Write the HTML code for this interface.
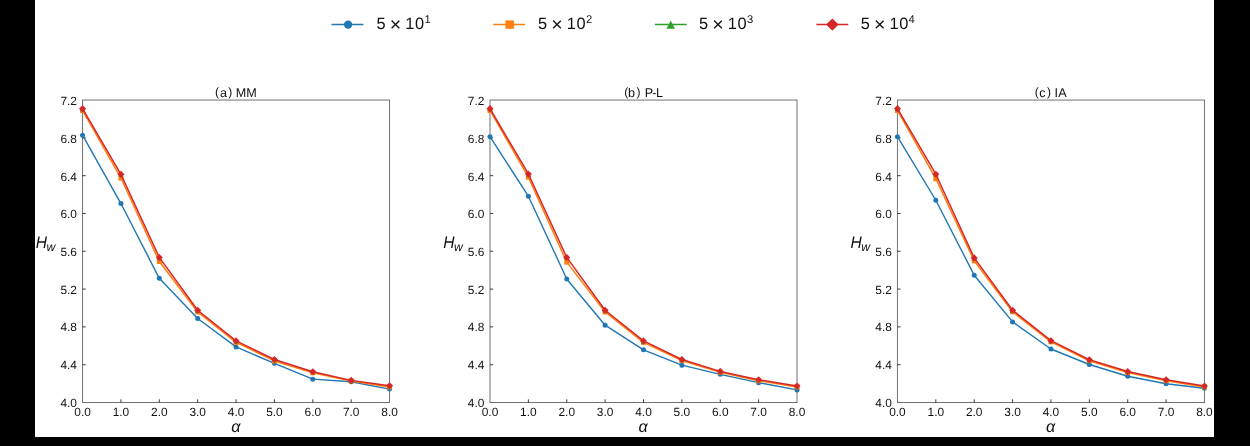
<!DOCTYPE html>
<html><head><meta charset="utf-8"><style>
html,body{margin:0;padding:0;background:#000;}
body{width:1250px;height:446px;overflow:hidden;position:relative;}
#w{position:absolute;left:35px;top:0;width:1179px;height:437px;background:#fff;}
svg{position:absolute;left:0;top:0;will-change:transform;}
text{font-family:"Liberation Sans", sans-serif;fill:#111;text-rendering:geometricPrecision;}
.t{font-size:11.9px;}
.ti{font-size:12.6px;}
.lab{font-size:16.2px;font-style:italic;}
.labH{font-size:16.8px;font-style:italic;}
.sub{font-size:12.2px;font-style:italic;}
.lg{font-size:16.4px;}
.lgx{font-size:19.6px;}
.sup{font-size:11.2px;}
</style></head><body>
<div id="w"></div>
<svg width="1250" height="446" viewBox="0 0 1250 446">
<defs><clipPath id="c"><rect x="35" y="0" width="1179" height="437"/></clipPath></defs>
<g clip-path="url(#c)">
<line x1="331.50" y1="24.45" x2="363.40" y2="24.45" stroke="#1f77b4" stroke-width="1.5"/>
<circle cx="348.10" cy="24.60" r="4.20" fill="#1f77b4"/>
<text x="376.60" y="28.9" class="lg">5</text>
<text x="389.80" y="30.8" class="lgx">&#215;</text>
<text x="405.20" y="28.9" class="lg">1</text>
<text x="415.00" y="28.9" class="lg">0</text>
<text x="424.60" y="23.1" class="sup">1</text>
<line x1="493.20" y1="24.45" x2="525.10" y2="24.45" stroke="#ff7f0e" stroke-width="1.5"/>
<rect x="505.45" y="20.40" width="8.40" height="8.40" fill="#ff7f0e"/>
<text x="538.10" y="28.9" class="lg">5</text>
<text x="551.30" y="30.8" class="lgx">&#215;</text>
<text x="566.70" y="28.9" class="lg">1</text>
<text x="576.50" y="28.9" class="lg">0</text>
<text x="586.10" y="23.1" class="sup">2</text>
<line x1="654.90" y1="24.45" x2="686.80" y2="24.45" stroke="#2ca02c" stroke-width="1.5"/>
<polygon points="670.70,20.40 674.90,28.80 666.50,28.80" fill="#2ca02c"/>
<text x="699.10" y="28.9" class="lg">5</text>
<text x="712.30" y="30.8" class="lgx">&#215;</text>
<text x="727.70" y="28.9" class="lg">1</text>
<text x="737.50" y="28.9" class="lg">0</text>
<text x="747.10" y="23.1" class="sup">3</text>
<line x1="816.40" y1="24.45" x2="848.30" y2="24.45" stroke="#d62728" stroke-width="1.5"/>
<polygon points="832.35,18.42 838.53,24.60 832.35,30.78 826.17,24.60" fill="#d62728"/>
<text x="860.80" y="28.9" class="lg">5</text>
<text x="874.00" y="30.8" class="lgx">&#215;</text>
<text x="889.40" y="28.9" class="lg">1</text>
<text x="899.20" y="28.9" class="lg">0</text>
<text x="908.40" y="23.1" class="sup">4</text>
<line x1="82.55" y1="99.77" x2="82.55" y2="402.78" stroke="#000" stroke-width="0.56"/>
<line x1="389.55" y1="99.77" x2="389.55" y2="402.78" stroke="#000" stroke-width="0.56"/>
<line x1="82.55" y1="100.05" x2="389.55" y2="100.05" stroke="#000" stroke-width="0.56"/>
<line x1="82.55" y1="402.50" x2="389.55" y2="402.50" stroke="#000" stroke-width="0.56"/>
<text x="82.55" y="415.6" text-anchor="middle" class="t">0.0</text>
<line x1="120.92" y1="402.50" x2="120.92" y2="399.30" stroke="#000" stroke-width="0.75"/>
<text x="120.92" y="415.6" text-anchor="middle" class="t">1.0</text>
<line x1="159.30" y1="402.50" x2="159.30" y2="399.30" stroke="#000" stroke-width="0.75"/>
<text x="159.30" y="415.6" text-anchor="middle" class="t">2.0</text>
<line x1="197.68" y1="402.50" x2="197.68" y2="399.30" stroke="#000" stroke-width="0.75"/>
<text x="197.68" y="415.6" text-anchor="middle" class="t">3.0</text>
<line x1="236.05" y1="402.50" x2="236.05" y2="399.30" stroke="#000" stroke-width="0.75"/>
<text x="236.05" y="415.6" text-anchor="middle" class="t">4.0</text>
<line x1="274.43" y1="402.50" x2="274.43" y2="399.30" stroke="#000" stroke-width="0.75"/>
<text x="274.43" y="415.6" text-anchor="middle" class="t">5.0</text>
<line x1="312.80" y1="402.50" x2="312.80" y2="399.30" stroke="#000" stroke-width="0.75"/>
<text x="312.80" y="415.6" text-anchor="middle" class="t">6.0</text>
<line x1="351.18" y1="402.50" x2="351.18" y2="399.30" stroke="#000" stroke-width="0.75"/>
<text x="351.18" y="415.6" text-anchor="middle" class="t">7.0</text>
<text x="389.55" y="415.6" text-anchor="middle" class="t">8.0</text>
<text x="76.95" y="406.85" text-anchor="end" class="t">4.0</text>
<line x1="82.55" y1="364.69" x2="85.75" y2="364.69" stroke="#000" stroke-width="0.75"/>
<text x="76.95" y="369.15" text-anchor="end" class="t">4.4</text>
<line x1="82.55" y1="326.89" x2="85.75" y2="326.89" stroke="#000" stroke-width="0.75"/>
<text x="76.95" y="331.45" text-anchor="end" class="t">4.8</text>
<line x1="82.55" y1="289.08" x2="85.75" y2="289.08" stroke="#000" stroke-width="0.75"/>
<text x="76.95" y="293.75" text-anchor="end" class="t">5.2</text>
<line x1="82.55" y1="251.28" x2="85.75" y2="251.28" stroke="#000" stroke-width="0.75"/>
<text x="76.95" y="256.05" text-anchor="end" class="t">5.6</text>
<line x1="82.55" y1="213.47" x2="85.75" y2="213.47" stroke="#000" stroke-width="0.75"/>
<text x="76.95" y="218.35" text-anchor="end" class="t">6.0</text>
<line x1="82.55" y1="175.66" x2="85.75" y2="175.66" stroke="#000" stroke-width="0.75"/>
<text x="76.95" y="180.65" text-anchor="end" class="t">6.4</text>
<line x1="82.55" y1="137.86" x2="85.75" y2="137.86" stroke="#000" stroke-width="0.75"/>
<text x="76.95" y="142.95" text-anchor="end" class="t">6.8</text>
<text x="76.95" y="105.25" text-anchor="end" class="t">7.2</text>
<polyline points="82.55,135.21 120.92,203.54 159.30,278.31 197.68,318.48 236.05,346.92 274.43,363.37 312.80,379.15 351.18,381.71 389.55,389.08" fill="none" stroke="#1f77b4" stroke-width="1.4" stroke-linejoin="round"/>
<circle cx="82.55" cy="135.21" r="2.50" fill="#1f77b4"/>
<circle cx="120.92" cy="203.54" r="2.50" fill="#1f77b4"/>
<circle cx="159.30" cy="278.31" r="2.50" fill="#1f77b4"/>
<circle cx="197.68" cy="318.48" r="2.50" fill="#1f77b4"/>
<circle cx="236.05" cy="346.92" r="2.50" fill="#1f77b4"/>
<circle cx="274.43" cy="363.37" r="2.50" fill="#1f77b4"/>
<circle cx="312.80" cy="379.15" r="2.50" fill="#1f77b4"/>
<circle cx="351.18" cy="381.71" r="2.50" fill="#1f77b4"/>
<circle cx="389.55" cy="389.08" r="2.50" fill="#1f77b4"/>
<polyline points="82.55,110.45 120.92,178.03 159.30,261.48 197.68,311.95 236.05,342.39 274.43,360.91 312.80,372.82 351.18,380.95 389.55,386.90" fill="none" stroke="#ff7f0e" stroke-width="1.5" stroke-linejoin="round"/>
<rect x="80.05" y="107.95" width="5.00" height="5.00" fill="#ff7f0e"/>
<rect x="118.42" y="175.53" width="5.00" height="5.00" fill="#ff7f0e"/>
<rect x="156.80" y="258.98" width="5.00" height="5.00" fill="#ff7f0e"/>
<rect x="195.18" y="309.45" width="5.00" height="5.00" fill="#ff7f0e"/>
<rect x="233.55" y="339.89" width="5.00" height="5.00" fill="#ff7f0e"/>
<rect x="271.93" y="358.41" width="5.00" height="5.00" fill="#ff7f0e"/>
<rect x="310.30" y="370.32" width="5.00" height="5.00" fill="#ff7f0e"/>
<rect x="348.68" y="378.45" width="5.00" height="5.00" fill="#ff7f0e"/>
<rect x="387.05" y="384.40" width="5.00" height="5.00" fill="#ff7f0e"/>
<polygon points="82.55,106.15 85.05,111.15 80.05,111.15" fill="#2ca02c"/>
<polygon points="120.92,171.84 123.42,176.84 118.42,176.84" fill="#2ca02c"/>
<polygon points="159.30,254.92 161.80,259.92 156.80,259.92" fill="#2ca02c"/>
<polygon points="197.68,307.75 200.18,312.75 195.18,312.75" fill="#2ca02c"/>
<polygon points="236.05,338.38 238.55,343.38 233.55,343.38" fill="#2ca02c"/>
<polygon points="274.43,357.00 276.93,362.00 271.93,362.00" fill="#2ca02c"/>
<polygon points="312.80,369.19 315.30,374.19 310.30,374.19" fill="#2ca02c"/>
<polygon points="351.18,377.88 353.68,382.88 348.68,382.88" fill="#2ca02c"/>
<polygon points="389.55,383.27 392.05,388.27 387.05,388.27" fill="#2ca02c"/>
<polyline points="82.55,108.65 120.92,174.34 159.30,257.42 197.68,310.25 236.05,340.88 274.43,359.50 312.80,371.69 351.18,380.38 389.55,385.77" fill="none" stroke="#d62728" stroke-width="1.5" stroke-linejoin="round"/>
<polygon points="82.55,105.12 86.08,108.65 82.55,112.19 79.02,108.65" fill="#d62728"/>
<polygon points="120.92,170.80 124.46,174.34 120.92,177.87 117.39,174.34" fill="#d62728"/>
<polygon points="159.30,253.88 162.84,257.42 159.30,260.95 155.77,257.42" fill="#d62728"/>
<polygon points="197.68,306.72 201.21,310.25 197.68,313.79 194.14,310.25" fill="#d62728"/>
<polygon points="236.05,337.34 239.59,340.88 236.05,344.41 232.52,340.88" fill="#d62728"/>
<polygon points="274.43,355.96 277.96,359.50 274.43,363.03 270.89,359.50" fill="#d62728"/>
<polygon points="312.80,368.15 316.34,371.69 312.80,375.22 309.26,371.69" fill="#d62728"/>
<polygon points="351.18,376.85 354.71,380.38 351.18,383.92 347.64,380.38" fill="#d62728"/>
<polygon points="389.55,382.24 393.09,385.77 389.55,389.31 386.01,385.77" fill="#d62728"/>
<text x="214.94" y="96" class="ti" style="font-size:12px">(</text>
<text x="219.90" y="96.85" class="ti">a</text>
<text x="228.17" y="96" class="ti" style="font-size:12px">)</text>
<text x="235.66" y="96.85" class="ti">M</text>
<text x="246.36" y="96.85" class="ti">M</text>
<text x="235.75" y="431.9" text-anchor="middle" class="lab">&#945;</text>
<g transform="translate(35.85,248.0) scale(0.93,1)"><text x="0" y="0" class="labH">H</text></g>
<text x="46.60" y="250.6" class="sub">w</text>
<line x1="490.00" y1="99.77" x2="490.00" y2="402.78" stroke="#000" stroke-width="0.56"/>
<line x1="797.00" y1="99.77" x2="797.00" y2="402.78" stroke="#000" stroke-width="0.56"/>
<line x1="490.00" y1="100.05" x2="797.00" y2="100.05" stroke="#000" stroke-width="0.56"/>
<line x1="490.00" y1="402.50" x2="797.00" y2="402.50" stroke="#000" stroke-width="0.56"/>
<text x="490.00" y="415.6" text-anchor="middle" class="t">0.0</text>
<line x1="528.38" y1="402.50" x2="528.38" y2="399.30" stroke="#000" stroke-width="0.75"/>
<text x="528.38" y="415.6" text-anchor="middle" class="t">1.0</text>
<line x1="566.75" y1="402.50" x2="566.75" y2="399.30" stroke="#000" stroke-width="0.75"/>
<text x="566.75" y="415.6" text-anchor="middle" class="t">2.0</text>
<line x1="605.12" y1="402.50" x2="605.12" y2="399.30" stroke="#000" stroke-width="0.75"/>
<text x="605.12" y="415.6" text-anchor="middle" class="t">3.0</text>
<line x1="643.50" y1="402.50" x2="643.50" y2="399.30" stroke="#000" stroke-width="0.75"/>
<text x="643.50" y="415.6" text-anchor="middle" class="t">4.0</text>
<line x1="681.88" y1="402.50" x2="681.88" y2="399.30" stroke="#000" stroke-width="0.75"/>
<text x="681.88" y="415.6" text-anchor="middle" class="t">5.0</text>
<line x1="720.25" y1="402.50" x2="720.25" y2="399.30" stroke="#000" stroke-width="0.75"/>
<text x="720.25" y="415.6" text-anchor="middle" class="t">6.0</text>
<line x1="758.62" y1="402.50" x2="758.62" y2="399.30" stroke="#000" stroke-width="0.75"/>
<text x="758.62" y="415.6" text-anchor="middle" class="t">7.0</text>
<text x="797.00" y="415.6" text-anchor="middle" class="t">8.0</text>
<text x="484.40" y="406.85" text-anchor="end" class="t">4.0</text>
<line x1="490.00" y1="364.69" x2="493.20" y2="364.69" stroke="#000" stroke-width="0.75"/>
<text x="484.40" y="369.15" text-anchor="end" class="t">4.4</text>
<line x1="490.00" y1="326.89" x2="493.20" y2="326.89" stroke="#000" stroke-width="0.75"/>
<text x="484.40" y="331.45" text-anchor="end" class="t">4.8</text>
<line x1="490.00" y1="289.08" x2="493.20" y2="289.08" stroke="#000" stroke-width="0.75"/>
<text x="484.40" y="293.75" text-anchor="end" class="t">5.2</text>
<line x1="490.00" y1="251.28" x2="493.20" y2="251.28" stroke="#000" stroke-width="0.75"/>
<text x="484.40" y="256.05" text-anchor="end" class="t">5.6</text>
<line x1="490.00" y1="213.47" x2="493.20" y2="213.47" stroke="#000" stroke-width="0.75"/>
<text x="484.40" y="218.35" text-anchor="end" class="t">6.0</text>
<line x1="490.00" y1="175.66" x2="493.20" y2="175.66" stroke="#000" stroke-width="0.75"/>
<text x="484.40" y="180.65" text-anchor="end" class="t">6.4</text>
<line x1="490.00" y1="137.86" x2="493.20" y2="137.86" stroke="#000" stroke-width="0.75"/>
<text x="484.40" y="142.95" text-anchor="end" class="t">6.8</text>
<text x="484.40" y="105.25" text-anchor="end" class="t">7.2</text>
<polyline points="490.00,136.72 528.38,196.17 566.75,278.97 605.12,325.19 643.50,349.85 681.88,365.17 720.25,374.33 758.62,382.65 797.00,389.93" fill="none" stroke="#1f77b4" stroke-width="1.4" stroke-linejoin="round"/>
<circle cx="490.00" cy="136.72" r="2.50" fill="#1f77b4"/>
<circle cx="528.38" cy="196.17" r="2.50" fill="#1f77b4"/>
<circle cx="566.75" cy="278.97" r="2.50" fill="#1f77b4"/>
<circle cx="605.12" cy="325.19" r="2.50" fill="#1f77b4"/>
<circle cx="643.50" cy="349.85" r="2.50" fill="#1f77b4"/>
<circle cx="681.88" cy="365.17" r="2.50" fill="#1f77b4"/>
<circle cx="720.25" cy="374.33" r="2.50" fill="#1f77b4"/>
<circle cx="758.62" cy="382.65" r="2.50" fill="#1f77b4"/>
<circle cx="797.00" cy="389.93" r="2.50" fill="#1f77b4"/>
<polyline points="490.00,110.45 528.38,177.08 566.75,262.14 605.12,311.95 643.50,342.39 681.88,360.54 720.25,372.35 758.62,380.76 797.00,386.90" fill="none" stroke="#ff7f0e" stroke-width="1.5" stroke-linejoin="round"/>
<rect x="487.50" y="107.95" width="5.00" height="5.00" fill="#ff7f0e"/>
<rect x="525.88" y="174.58" width="5.00" height="5.00" fill="#ff7f0e"/>
<rect x="564.25" y="259.64" width="5.00" height="5.00" fill="#ff7f0e"/>
<rect x="602.62" y="309.45" width="5.00" height="5.00" fill="#ff7f0e"/>
<rect x="641.00" y="339.89" width="5.00" height="5.00" fill="#ff7f0e"/>
<rect x="679.38" y="358.04" width="5.00" height="5.00" fill="#ff7f0e"/>
<rect x="717.75" y="369.85" width="5.00" height="5.00" fill="#ff7f0e"/>
<rect x="756.12" y="378.26" width="5.00" height="5.00" fill="#ff7f0e"/>
<rect x="794.50" y="384.40" width="5.00" height="5.00" fill="#ff7f0e"/>
<polygon points="490.00,106.15 492.50,111.15 487.50,111.15" fill="#2ca02c"/>
<polygon points="528.38,171.46 530.88,176.46 525.88,176.46" fill="#2ca02c"/>
<polygon points="566.75,254.92 569.25,259.92 564.25,259.92" fill="#2ca02c"/>
<polygon points="605.12,307.75 607.62,312.75 602.62,312.75" fill="#2ca02c"/>
<polygon points="643.50,338.38 646.00,343.38 641.00,343.38" fill="#2ca02c"/>
<polygon points="681.88,357.00 684.38,362.00 679.38,362.00" fill="#2ca02c"/>
<polygon points="720.25,368.90 722.75,373.90 717.75,373.90" fill="#2ca02c"/>
<polygon points="758.62,377.32 761.12,382.32 756.12,382.32" fill="#2ca02c"/>
<polygon points="797.00,383.46 799.50,388.46 794.50,388.46" fill="#2ca02c"/>
<polyline points="490.00,108.65 528.38,173.96 566.75,257.42 605.12,310.25 643.50,340.88 681.88,359.50 720.25,371.40 758.62,379.82 797.00,385.96" fill="none" stroke="#d62728" stroke-width="1.5" stroke-linejoin="round"/>
<polygon points="490.00,105.12 493.54,108.65 490.00,112.19 486.46,108.65" fill="#d62728"/>
<polygon points="528.38,170.43 531.91,173.96 528.38,177.50 524.84,173.96" fill="#d62728"/>
<polygon points="566.75,253.88 570.28,257.42 566.75,260.95 563.22,257.42" fill="#d62728"/>
<polygon points="605.12,306.72 608.66,310.25 605.12,313.79 601.59,310.25" fill="#d62728"/>
<polygon points="643.50,337.34 647.03,340.88 643.50,344.41 639.97,340.88" fill="#d62728"/>
<polygon points="681.88,355.96 685.41,359.50 681.88,363.03 678.34,359.50" fill="#d62728"/>
<polygon points="720.25,367.87 723.78,371.40 720.25,374.94 716.72,371.40" fill="#d62728"/>
<polygon points="758.62,376.28 762.16,379.82 758.62,383.35 755.09,379.82" fill="#d62728"/>
<polygon points="797.00,382.42 800.53,385.96 797.00,389.49 793.47,385.96" fill="#d62728"/>
<text x="624.14" y="96" class="ti" style="font-size:12px">(</text>
<text x="627.96" y="96.85" class="ti">b</text>
<text x="636.47" y="96" class="ti" style="font-size:12px">)</text>
<text x="644.86" y="96.85" class="ti">P</text>
<text x="652.36" y="96.85" class="ti">-</text>
<text x="656.06" y="96.85" class="ti">L</text>
<text x="643.20" y="431.9" text-anchor="middle" class="lab">&#945;</text>
<g transform="translate(443.30,248.0) scale(0.93,1)"><text x="0" y="0" class="labH">H</text></g>
<text x="454.05" y="250.6" class="sub">w</text>
<line x1="897.45" y1="99.77" x2="897.45" y2="402.78" stroke="#000" stroke-width="0.56"/>
<line x1="1204.45" y1="99.77" x2="1204.45" y2="402.78" stroke="#000" stroke-width="0.56"/>
<line x1="897.45" y1="100.05" x2="1204.45" y2="100.05" stroke="#000" stroke-width="0.56"/>
<line x1="897.45" y1="402.50" x2="1204.45" y2="402.50" stroke="#000" stroke-width="0.56"/>
<text x="897.45" y="415.6" text-anchor="middle" class="t">0.0</text>
<line x1="935.82" y1="402.50" x2="935.82" y2="399.30" stroke="#000" stroke-width="0.75"/>
<text x="935.82" y="415.6" text-anchor="middle" class="t">1.0</text>
<line x1="974.20" y1="402.50" x2="974.20" y2="399.30" stroke="#000" stroke-width="0.75"/>
<text x="974.20" y="415.6" text-anchor="middle" class="t">2.0</text>
<line x1="1012.57" y1="402.50" x2="1012.57" y2="399.30" stroke="#000" stroke-width="0.75"/>
<text x="1012.57" y="415.6" text-anchor="middle" class="t">3.0</text>
<line x1="1050.95" y1="402.50" x2="1050.95" y2="399.30" stroke="#000" stroke-width="0.75"/>
<text x="1050.95" y="415.6" text-anchor="middle" class="t">4.0</text>
<line x1="1089.32" y1="402.50" x2="1089.32" y2="399.30" stroke="#000" stroke-width="0.75"/>
<text x="1089.32" y="415.6" text-anchor="middle" class="t">5.0</text>
<line x1="1127.70" y1="402.50" x2="1127.70" y2="399.30" stroke="#000" stroke-width="0.75"/>
<text x="1127.70" y="415.6" text-anchor="middle" class="t">6.0</text>
<line x1="1166.07" y1="402.50" x2="1166.07" y2="399.30" stroke="#000" stroke-width="0.75"/>
<text x="1166.07" y="415.6" text-anchor="middle" class="t">7.0</text>
<text x="1204.45" y="415.6" text-anchor="middle" class="t">8.0</text>
<text x="891.85" y="406.85" text-anchor="end" class="t">4.0</text>
<line x1="897.45" y1="364.69" x2="900.65" y2="364.69" stroke="#000" stroke-width="0.75"/>
<text x="891.85" y="369.15" text-anchor="end" class="t">4.4</text>
<line x1="897.45" y1="326.89" x2="900.65" y2="326.89" stroke="#000" stroke-width="0.75"/>
<text x="891.85" y="331.45" text-anchor="end" class="t">4.8</text>
<line x1="897.45" y1="289.08" x2="900.65" y2="289.08" stroke="#000" stroke-width="0.75"/>
<text x="891.85" y="293.75" text-anchor="end" class="t">5.2</text>
<line x1="897.45" y1="251.28" x2="900.65" y2="251.28" stroke="#000" stroke-width="0.75"/>
<text x="891.85" y="256.05" text-anchor="end" class="t">5.6</text>
<line x1="897.45" y1="213.47" x2="900.65" y2="213.47" stroke="#000" stroke-width="0.75"/>
<text x="891.85" y="218.35" text-anchor="end" class="t">6.0</text>
<line x1="897.45" y1="175.66" x2="900.65" y2="175.66" stroke="#000" stroke-width="0.75"/>
<text x="891.85" y="180.65" text-anchor="end" class="t">6.4</text>
<line x1="897.45" y1="137.86" x2="900.65" y2="137.86" stroke="#000" stroke-width="0.75"/>
<text x="891.85" y="142.95" text-anchor="end" class="t">6.8</text>
<text x="891.85" y="105.25" text-anchor="end" class="t">7.2</text>
<polyline points="897.45,136.72 935.82,200.24 974.20,275.19 1012.57,321.88 1050.95,349.00 1089.32,364.50 1127.70,376.22 1166.07,383.79 1204.45,388.32" fill="none" stroke="#1f77b4" stroke-width="1.4" stroke-linejoin="round"/>
<circle cx="897.45" cy="136.72" r="2.50" fill="#1f77b4"/>
<circle cx="935.82" cy="200.24" r="2.50" fill="#1f77b4"/>
<circle cx="974.20" cy="275.19" r="2.50" fill="#1f77b4"/>
<circle cx="1012.57" cy="321.88" r="2.50" fill="#1f77b4"/>
<circle cx="1050.95" cy="349.00" r="2.50" fill="#1f77b4"/>
<circle cx="1089.32" cy="364.50" r="2.50" fill="#1f77b4"/>
<circle cx="1127.70" cy="376.22" r="2.50" fill="#1f77b4"/>
<circle cx="1166.07" cy="383.79" r="2.50" fill="#1f77b4"/>
<circle cx="1204.45" cy="388.32" r="2.50" fill="#1f77b4"/>
<polyline points="897.45,110.45 935.82,178.69 974.20,260.82 1012.57,311.76 1050.95,341.82 1089.32,360.72 1127.70,372.54 1166.07,380.76 1204.45,386.90" fill="none" stroke="#ff7f0e" stroke-width="1.5" stroke-linejoin="round"/>
<rect x="894.95" y="107.95" width="5.00" height="5.00" fill="#ff7f0e"/>
<rect x="933.32" y="176.19" width="5.00" height="5.00" fill="#ff7f0e"/>
<rect x="971.70" y="258.32" width="5.00" height="5.00" fill="#ff7f0e"/>
<rect x="1010.07" y="309.26" width="5.00" height="5.00" fill="#ff7f0e"/>
<rect x="1048.45" y="339.32" width="5.00" height="5.00" fill="#ff7f0e"/>
<rect x="1086.82" y="358.22" width="5.00" height="5.00" fill="#ff7f0e"/>
<rect x="1125.20" y="370.04" width="5.00" height="5.00" fill="#ff7f0e"/>
<rect x="1163.57" y="378.26" width="5.00" height="5.00" fill="#ff7f0e"/>
<rect x="1201.95" y="384.40" width="5.00" height="5.00" fill="#ff7f0e"/>
<polygon points="897.45,106.15 899.95,111.15 894.95,111.15" fill="#2ca02c"/>
<polygon points="935.82,171.74 938.32,176.74 933.32,176.74" fill="#2ca02c"/>
<polygon points="974.20,255.39 976.70,260.39 971.70,260.39" fill="#2ca02c"/>
<polygon points="1012.57,307.75 1015.07,312.75 1010.07,312.75" fill="#2ca02c"/>
<polygon points="1050.95,338.19 1053.45,343.19 1048.45,343.19" fill="#2ca02c"/>
<polygon points="1089.32,357.28 1091.82,362.28 1086.82,362.28" fill="#2ca02c"/>
<polygon points="1127.70,369.09 1130.20,374.09 1125.20,374.09" fill="#2ca02c"/>
<polygon points="1166.07,377.32 1168.57,382.32 1163.57,382.32" fill="#2ca02c"/>
<polygon points="1204.45,383.46 1206.95,388.46 1201.95,388.46" fill="#2ca02c"/>
<polyline points="897.45,108.65 935.82,174.24 974.20,257.89 1012.57,310.25 1050.95,340.69 1089.32,359.78 1127.70,371.59 1166.07,379.82 1204.45,385.96" fill="none" stroke="#d62728" stroke-width="1.5" stroke-linejoin="round"/>
<polygon points="897.45,105.12 900.98,108.65 897.45,112.19 893.91,108.65" fill="#d62728"/>
<polygon points="935.82,170.71 939.36,174.24 935.82,177.78 932.29,174.24" fill="#d62728"/>
<polygon points="974.20,254.36 977.73,257.89 974.20,261.43 970.66,257.89" fill="#d62728"/>
<polygon points="1012.57,306.72 1016.11,310.25 1012.57,313.79 1009.04,310.25" fill="#d62728"/>
<polygon points="1050.95,337.15 1054.48,340.69 1050.95,344.22 1047.41,340.69" fill="#d62728"/>
<polygon points="1089.32,356.24 1092.86,359.78 1089.32,363.31 1085.79,359.78" fill="#d62728"/>
<polygon points="1127.70,368.06 1131.23,371.59 1127.70,375.13 1124.16,371.59" fill="#d62728"/>
<polygon points="1166.07,376.28 1169.61,379.82 1166.07,383.35 1162.54,379.82" fill="#d62728"/>
<polygon points="1204.45,382.42 1207.98,385.96 1204.45,389.49 1200.91,385.96" fill="#d62728"/>
<text x="1034.64" y="96" class="ti" style="font-size:12px">(</text>
<text x="1039.33" y="96.85" class="ti">c</text>
<text x="1047.07" y="96" class="ti" style="font-size:12px">)</text>
<text x="1054.42" y="96.85" class="ti">I</text>
<text x="1058.15" y="96.85" class="ti">A</text>
<text x="1050.65" y="431.9" text-anchor="middle" class="lab">&#945;</text>
<g transform="translate(850.60,248.0) scale(0.93,1)"><text x="0" y="0" class="labH">H</text></g>
<text x="861.35" y="250.6" class="sub">w</text>
</g>
</svg>
</body></html>
